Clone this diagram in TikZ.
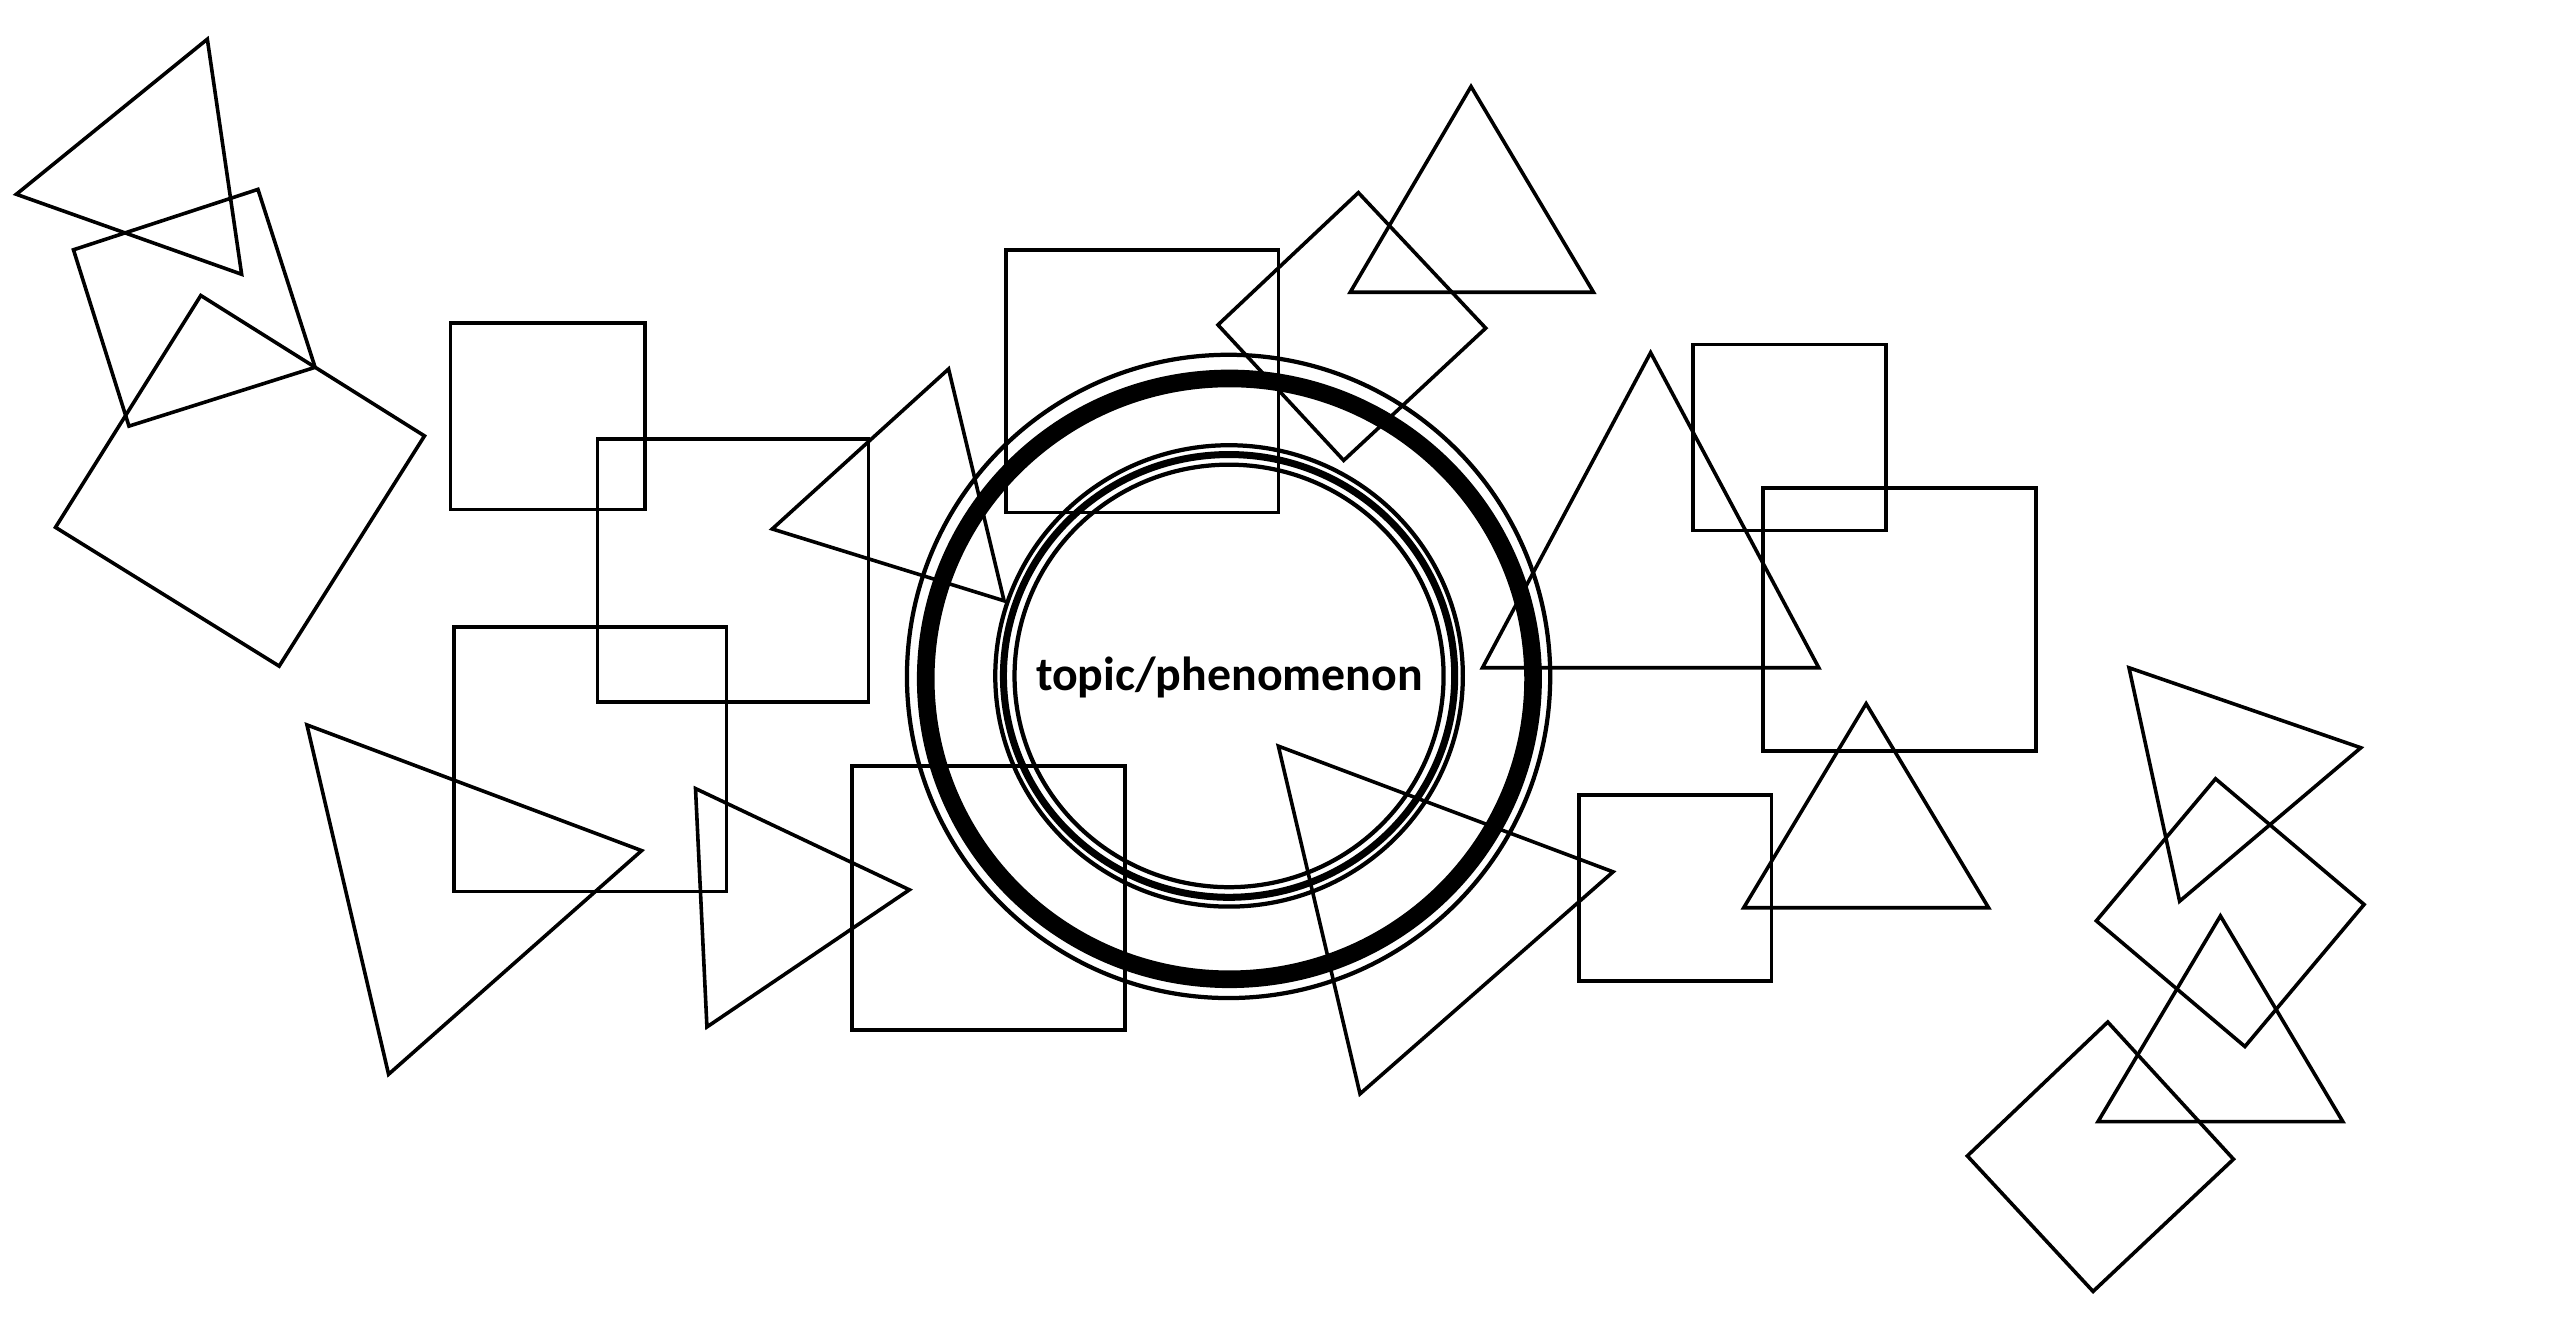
\documentclass[tikz,border=0pt]{standalone}
\usepackage{fontspec}
\newfontfamily\lblfont{Carlito}
\begin{document}
\begin{tikzpicture}[x=1pt,y=-1pt,
  shp/.style={draw=black,line width=2.2pt,line join=miter},
  ring/.style={draw=black,line width=2.6pt},
  midring/.style={draw=black,line width=4.3pt},
  thickring/.style={draw=black,line width=10.8pt},
  lbl/.style={font=\lblfont\bfseries\fontsize{29.3}{35}\selectfont,text=black,inner sep=0pt}]
\useasboundingbox (0,0) rectangle (1568,810);
% shapes
\draw[shp] (10,119) -- (127,24) -- (148,168) -- cycle;
\draw[shp] (45,153) -- (158,116) -- (193,225) -- (79,261) -- cycle;
\draw[shp] (34,323) -- (123,181) -- (260,267) -- (171,408) -- cycle;
\draw[shp] (276,198) rectangle (395,312);
\draw[shp] (366,269) rectangle (532,430);
\draw[shp] (473,324) -- (581,226) -- (615,368) -- cycle;
\draw[shp] (616,153) rectangle (783,314);
\draw[shp] (746,199) -- (832,118) -- (910,201) -- (823,282) -- cycle;
\draw[shp] (827,179) -- (901,53) -- (976,179) -- cycle;
\draw[shp] (908,409) -- (1011,216) -- (1114,409) -- cycle;
\draw[shp] (1037,211) rectangle (1155,325);
\draw[shp] (1080,299) rectangle (1247,460);
\draw[shp] (278,384) rectangle (445,546);
\draw[shp] (188,444) -- (393,521) -- (238,658) -- cycle;
\draw[shp] (426,483) -- (557,545) -- (433,629) -- cycle;
\draw[shp] (522,469) rectangle (689,631);
\draw[shp] (783,457) -- (988,534) -- (833,670) -- cycle;
\draw[shp] (967,487) rectangle (1085,601);
\draw[shp] (1068,556) -- (1143,431) -- (1218,556) -- cycle;
\draw[shp] (1304,409) -- (1446,458) -- (1335,552) -- cycle;
\draw[shp] (1284,564) -- (1357,477) -- (1448,554) -- (1375,641) -- cycle;
\draw[shp] (1285,687) -- (1360,561) -- (1435,687) -- cycle;
\draw[shp] (1205,708) -- (1291,626) -- (1368,710) -- (1282,791) -- cycle;
% central rings
\coordinate (c) at (752.5,414.3);
\draw[ring] (c) circle (197);
\coordinate (ct) at (753,415.8);
\draw[thickring] (ct) ellipse [x radius=186, y radius=184];
\coordinate (ci) at (752.8,414);
\draw[ring] (ci) ellipse [x radius=143.2, y radius=141.3];
\draw[midring] (ci) ellipse [x radius=138.2, y radius=135.6];
\draw[ring] (ci) ellipse [x radius=131.4, y radius=129.4];
\node[lbl] (topic) at (753,415) {topic/phenomenon};
\end{tikzpicture}
\end{document}
